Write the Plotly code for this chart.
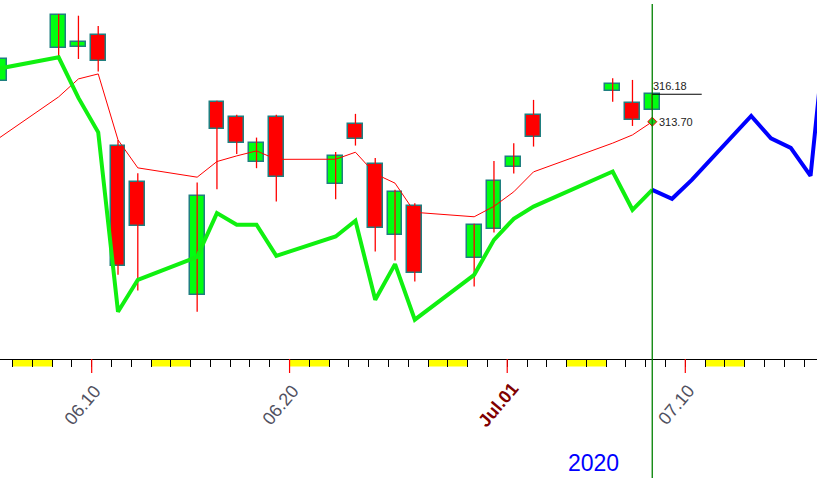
import pandas as pd
import plotly.graph_objects as go

# ---------------- data ----------------
dates = ["2020-06-05", "2020-06-08", "2020-06-09", "2020-06-10", "2020-06-11", "2020-06-12",
         "2020-06-15", "2020-06-16", "2020-06-17", "2020-06-18", "2020-06-19", "2020-06-22",
         "2020-06-23", "2020-06-24", "2020-06-25", "2020-06-26", "2020-06-29", "2020-06-30",
         "2020-07-01", "2020-07-02", "2020-07-06", "2020-07-07", "2020-07-08"]
open_ = [317.35, 320.32, 320.41, 321.50, 311.52, 308.25, 298.07, 315.46, 314.11, 310.05, 314.16, 308.07,
         313.48, 309.87, 303.48, 306.09, 301.41, 304.02, 309.60, 314.29, 316.48, 315.37, 314.74]
high = [320.00, 323.41, 323.26, 322.33, 312.06, 309.06, 308.22, 315.60, 314.32, 312.27, 314.32, 310.98,
        314.41, 310.44, 307.56, 306.36, 304.50, 310.17, 311.77, 315.67, 317.62, 317.47, 316.18]
low = [316.90, 319.63, 319.36, 318.22, 299.90, 298.49, 296.57, 307.62, 310.80, 309.51, 306.50, 306.72,
       311.55, 302.00, 301.19, 299.30, 298.85, 303.71, 309.03, 311.46, 315.51, 313.32, 314.74]
close = [319.33, 323.32, 320.86, 319.15, 300.68, 304.29, 306.99, 313.03, 311.77, 311.77, 308.73, 310.59,
         312.13, 304.11, 307.35, 300.05, 304.38, 308.34, 310.50, 312.33, 317.08, 313.86, 316.18]
ma_line = [312.24, 315.94, 317.56, 318.01, 312.06, 309.54, 308.70, 310.11, 310.62, 311.07, 310.31, 310.32,
           310.95, 309.00, 308.16, 305.53, 305.13, 306.07, 307.38, 309.18, 311.77, 312.51, 313.70]
indicator = [318.50, 319.51, 315.85, 312.74, 296.57, 299.45, 301.52, 305.46, 304.41, 304.41, 301.61, 303.35,
             304.77, 297.65, 300.86, 295.85, 299.90, 303.05, 304.95, 306.05, 309.21, 305.76, 307.56]
proj_dates = ["2020-07-08", "2020-07-09", "2020-07-10", "2020-07-13", "2020-07-14",
              "2020-07-15", "2020-07-16", "2020-07-17"]
projection = [307.56, 306.75, 308.46, 314.22, 312.20, 311.34, 308.82, 326.30]
weekend_starts = ["2020-06-06", "2020-06-13", "2020-06-20", "2020-06-27", "2020-07-04", "2020-07-11"]
label_dates = ["2020-06-10", "2020-06-20", "2020-07-01", "2020-07-10"]
label_texts = ["06.10", "06.20", "<b>Jul.01</b>", "07.10"]
label_colors = ["#505060", "#505060", "#800000", "#505060"]
year_label = "2020"
last_close_label = "316.18"
last_ma_label = "313.70"

# ---------------- helpers ----------------
origin = pd.Timestamp("2020-06-10")
OFF = 0.33  # bar centre offset within its day


def day(d):
    return (pd.Timestamp(d) - origin).days


xs = [day(d) + OFF for d in dates]
pxs = [day(d) + OFF for d in proj_dates]

PLOT_H = 359.3
XR = [-4.634, 36.656]
YR = [292.306, 324.676]

fig = go.Figure()

# wicks
wx, wy = [], []
for x, lo, hi in zip(xs, low, high):
    wx += [x, x, None]
    wy += [lo, hi, None]
fig.add_trace(go.Scatter(x=wx, y=wy, mode="lines", line=dict(color="#ff0000", width=1.3),
                         hoverinfo="skip", showlegend=False))

# bodies
base = [min(o, c) for o, c in zip(open_, close)]
height = [abs(c - o) for o, c in zip(open_, close)]
colors = ["#00ff10" if c >= o else "#ff0000" for o, c in zip(open_, close)]
fig.add_trace(go.Bar(x=xs, y=height, base=base, width=0.75,
                     marker=dict(color=colors, line=dict(color="#1f7f80", width=1.5)),
                     showlegend=False, hoverinfo="skip"))

# moving average line
fig.add_trace(go.Scatter(x=xs, y=ma_line, mode="lines", line=dict(color="#ff0000", width=1),
                         showlegend=False, hoverinfo="skip"))
# green indicator
fig.add_trace(go.Scatter(x=xs, y=indicator, mode="lines", line=dict(color="#10f010", width=4),
                         showlegend=False, hoverinfo="skip"))
# blue projection
fig.add_trace(go.Scatter(x=pxs, y=projection, mode="lines", line=dict(color="#0000ff", width=4),
                         showlegend=False, hoverinfo="skip"))
# marker at last MA value
fig.add_trace(go.Scatter(x=[xs[-1]], y=[ma_line[-1]], mode="markers",
                         marker=dict(symbol="diamond", size=7, color="#20d020",
                                     line=dict(color="#ff0000", width=1)),
                         showlegend=False, hoverinfo="skip"))

shapes = []
# weekend bands under the axis
for w in weekend_starts:
    shapes.append(dict(type="rect", xref="x", yref="paper", x0=day(w), x1=day(w) + 2,
                       y0=-7.4 / PLOT_H, y1=0, fillcolor="#ffff00", line=dict(width=0), layer="below"))
# red major ticks
for d in label_dates:
    shapes.append(dict(type="line", xref="x", yref="paper", x0=day(d), x1=day(d),
                       y0=-14 / PLOT_H, y1=0, line=dict(color="#ff0000", width=1.2)))
# vertical green line at last bar
shapes.append(dict(type="line", xref="x", yref="paper", x0=xs[-1], x1=xs[-1],
                   y0=-120 / PLOT_H, y1=(PLOT_H - 4) / PLOT_H, line=dict(color="#008000", width=1.3)))
# last close line
shapes.append(dict(type="line", xref="x", yref="y", x0=xs[-1], x1=xs[-1] + 2.5,
                   y0=close[-1], y1=close[-1], line=dict(color="#000000", width=1.2)))

annotations = []
for d, t, c in zip(label_dates, label_texts, label_colors):
    annotations.append(dict(x=day(d), xref="x", y=0, yref="paper", text=t, showarrow=False,
                            textangle=-50, xanchor="center", yanchor="middle",
                            xshift=-9, yshift=-46,
                            font=dict(family="Liberation Sans, Arial", size=18, color=c)))
annotations.append(dict(x=593 / 817, xref="paper", y=0, yref="paper", text=year_label,
                        showarrow=False, xanchor="center", yanchor="middle", yshift=-104,
                        font=dict(family="Liberation Sans, Arial", size=23, color="#0000ff")))
annotations.append(dict(x=xs[-1], xref="x", y=close[-1], yref="y", text=last_close_label,
                        showarrow=False, xanchor="left", yanchor="middle", xshift=-1, yshift=8,
                        font=dict(family="Liberation Sans, Arial", size=11, color="#222222")))
annotations.append(dict(x=xs[-1], xref="x", y=ma_line[-1], yref="y", text=last_ma_label,
                        showarrow=False, xanchor="left", yanchor="middle", xshift=5, yshift=0,
                        font=dict(family="Liberation Sans, Arial", size=11, color="#222222")))

fig.update_layout(
    width=817, height=478,
    margin=dict(l=0, r=0, t=0, b=478 - PLOT_H, pad=0),
    paper_bgcolor="white", plot_bgcolor="white",
    barmode="overlay", bargap=0,
    shapes=shapes, annotations=annotations,
    xaxis=dict(range=XR, tick0=0, dtick=1, ticks="outside", ticklen=7, tickwidth=1,
               tickcolor="#000000", showticklabels=False, showgrid=False, zeroline=False,
               showline=True, linecolor="#000000", linewidth=1.2, fixedrange=True),
    yaxis=dict(range=YR, visible=False, showgrid=False, zeroline=False, fixedrange=True),
    showlegend=False,
)

fig.write_html("out.html", config={"displayModeBar": False},
               post_script="document.body.style.margin='0';")
